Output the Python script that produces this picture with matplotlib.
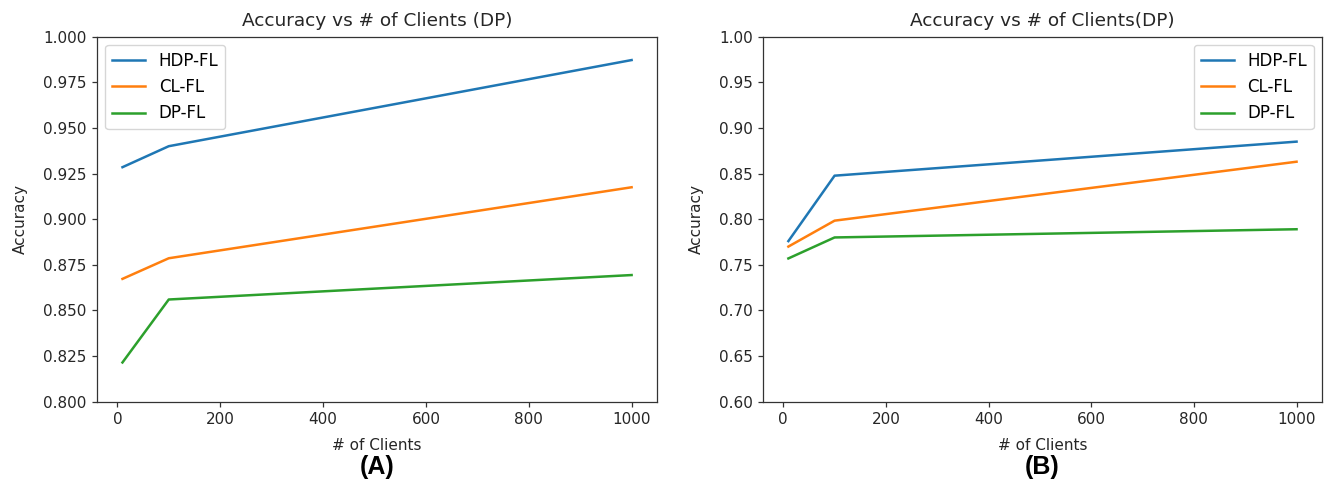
import matplotlib
matplotlib.use("Agg")
import matplotlib.pyplot as plt

clients = [10, 100, 1000]
series_names = ["HDP-FL", "CL-FL", "DP-FL"]
acc_a_hdp = [0.9285, 0.940, 0.9872]
acc_a_cl = [0.8673, 0.8786, 0.9175]
acc_a_dp = [0.8215, 0.856, 0.8694]
acc_b_hdp = [0.776, 0.8477, 0.885]
acc_b_cl = [0.770, 0.7984, 0.863]
acc_b_dp = [0.757, 0.780, 0.789]
xticks = [0, 200, 400, 600, 800, 1000]
yticks_a = [0.800, 0.825, 0.850, 0.875, 0.900, 0.925, 0.950, 0.975, 1.000]
yticks_b = [0.60, 0.65, 0.70, 0.75, 0.80, 0.85, 0.90, 0.95, 1.00]
titles = ["Accuracy vs # of Clients (DP)", "Accuracy vs # of Clients(DP)"]
panel_labels = ["(A)", "(B)"]
colors = ["#1f77b4", "#ff7f0e", "#2ca02c"]

plt.rcParams['font.family'] = ['DejaVu Sans']
fig = plt.figure(figsize=(13.29, 4.90), dpi=100)

ax1 = fig.add_axes([0.0730, 0.1802, 0.4214, 0.7449])
ax2 = fig.add_axes([0.5741, 0.1802, 0.4206, 0.7449])

fs = 11
for ax, data, yt, fmt, title, lab, loc in [
    (ax1, [acc_a_hdp, acc_a_cl, acc_a_dp], yticks_a, "{:.3f}", titles[0], panel_labels[0], "upper left"),
    (ax2, [acc_b_hdp, acc_b_cl, acc_b_dp], yticks_b, "{:.2f}", titles[1], panel_labels[1], "upper right"),
]:
    for vals, name, c in zip(data, series_names, colors):
        ax.plot(clients, vals, color=c, lw=1.8, label=name)
    ax.set_xlim(-39.5, 1049.5)
    ax.set_ylim(yt[0], yt[-1])
    ax.set_xticks(xticks)
    ax.set_xticklabels([str(t) for t in xticks], fontsize=fs, color="#262626")
    ax.set_yticks(yt)
    ax.set_yticklabels([fmt.format(t) for t in yt], fontsize=fs, color="#262626")
    ax.tick_params(length=3.9, width=0.9, color="#333333")
    for s in ax.spines.values():
        s.set_linewidth(0.9)
        s.set_color("#333333")
    ax.set_title(title, fontsize=13.3, color="#262626", pad=8)
    ax.set_xlabel("# of Clients", fontsize=fs, color="#262626", labelpad=8)
    ax.set_ylabel("Accuracy", fontsize=fs, color="#262626", labelpad=11)
    leg = ax.legend(loc=loc, fontsize=12, frameon=True, handlelength=2.0,
                    borderaxespad=0.5)
    leg.get_frame().set_edgecolor("#cccccc")
    ax.text(0.5, -0.178, lab, transform=ax.transAxes, ha="center", va="center",
            fontsize=18, fontweight="bold", family="Liberation Sans")

fig.savefig("out.png", dpi=100)
